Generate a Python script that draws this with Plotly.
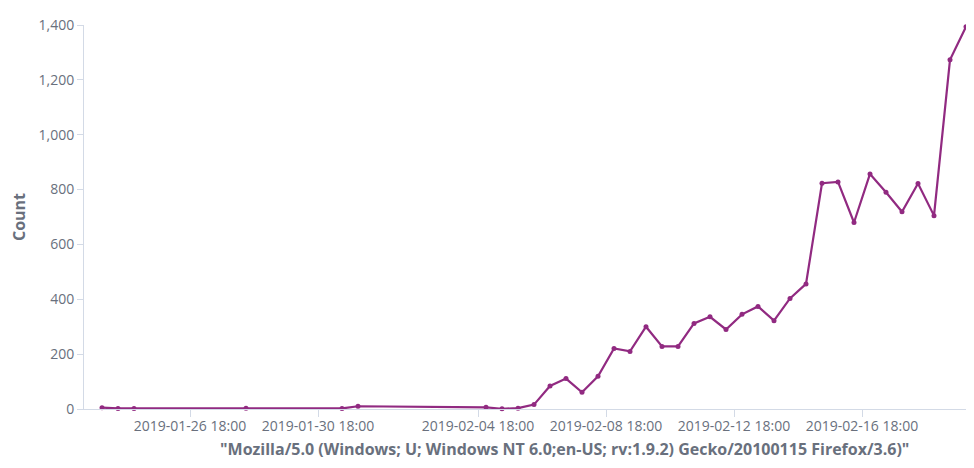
import plotly.graph_objects as go

timestamps = [
    "2019-01-24 00:00", "2019-01-24 12:00", "2019-01-25 00:00", "2019-01-28 12:00",
    "2019-01-31 12:00", "2019-02-01 00:00", "2019-02-05 00:00", "2019-02-05 12:00",
    "2019-02-06 00:00", "2019-02-06 12:00", "2019-02-07 00:00", "2019-02-07 12:00",
    "2019-02-08 00:00", "2019-02-08 12:00", "2019-02-09 00:00", "2019-02-09 12:00",
    "2019-02-10 00:00", "2019-02-10 12:00", "2019-02-11 00:00", "2019-02-11 12:00",
    "2019-02-12 00:00", "2019-02-12 12:00", "2019-02-13 00:00", "2019-02-13 12:00",
    "2019-02-14 00:00", "2019-02-14 12:00", "2019-02-15 00:00", "2019-02-15 12:00",
    "2019-02-16 00:00", "2019-02-16 12:00", "2019-02-17 00:00", "2019-02-17 12:00",
    "2019-02-18 00:00", "2019-02-18 12:00", "2019-02-19 00:00", "2019-02-19 12:00",
    "2019-02-20 00:00", "2019-02-20 12:00",
]
counts = [
    5, 2, 2, 3,
    2, 10, 6, 1,
    3, 16, 84, 111,
    61, 119, 221, 210,
    300, 228, 228, 312,
    336, 290, 345, 374,
    322, 403, 456, 823,
    828, 680, 857, 790,
    719, 822, 705, 1273,
    1394, 1250,
]

x_tick_values = [
    "2019-01-26 18:00", "2019-01-30 18:00", "2019-02-04 18:00",
    "2019-02-08 18:00", "2019-02-12 18:00", "2019-02-16 18:00",
]
y_tick_values = [0, 200, 400, 600, 800, 1000, 1200, 1400]
x_range = ["2019-01-23 10:30", "2019-02-20 06:00"]
y_title = "Count"
x_title = '"Mozilla/5.0 (Windows; U; Windows NT 6.0;en-US; rv:1.9.2) Gecko/20100115 Firefox/3.6)"'

line_color = "#912A81"
text_color = "#69707D"
axis_color = "#D3DAE6"

fig = go.Figure()
fig.add_trace(go.Scatter(
    x=timestamps, y=counts, mode="lines+markers",
    line=dict(color=line_color, width=2.2),
    marker=dict(color=line_color, size=5),
    cliponaxis=False, showlegend=False,
))

fig.update_layout(
    width=966, height=460,
    margin=dict(l=76, r=0, t=17, b=59),
    paper_bgcolor="white", plot_bgcolor="white",
    font=dict(family="Open Sans", color=text_color, size=14),
    xaxis=dict(
        type="date", range=x_range,
        tickvals=x_tick_values, tickformat="%Y-%m-%d %H:%M",
        showgrid=False, zeroline=False,
        showline=True, linecolor=axis_color, linewidth=1,
        ticks="outside", ticklen=7, tickcolor=axis_color,
        tickfont=dict(size=14, color=text_color),
        ticklabelstandoff=-3,
    ),
    yaxis=dict(
        range=[0, 1400], tickvals=y_tick_values, tickformat=",d",
        showgrid=False, zeroline=False,
        showline=True, linecolor=axis_color, linewidth=1,
        ticks="outside", ticklen=6, tickcolor=axis_color,
        tickfont=dict(size=14, color=text_color),
        title=dict(text="<b>" + y_title + "</b>", font=dict(size=16, color=text_color), standoff=12),
    ),
    annotations=[dict(
        text="<b>" + x_title + "</b>", xref="paper", yref="paper",
        x=0.540, y=0, yanchor="middle", xanchor="center",
        yshift=-40, showarrow=False,
        font=dict(size=16, color=text_color),
    )],
)

fig.write_html("out.html")
